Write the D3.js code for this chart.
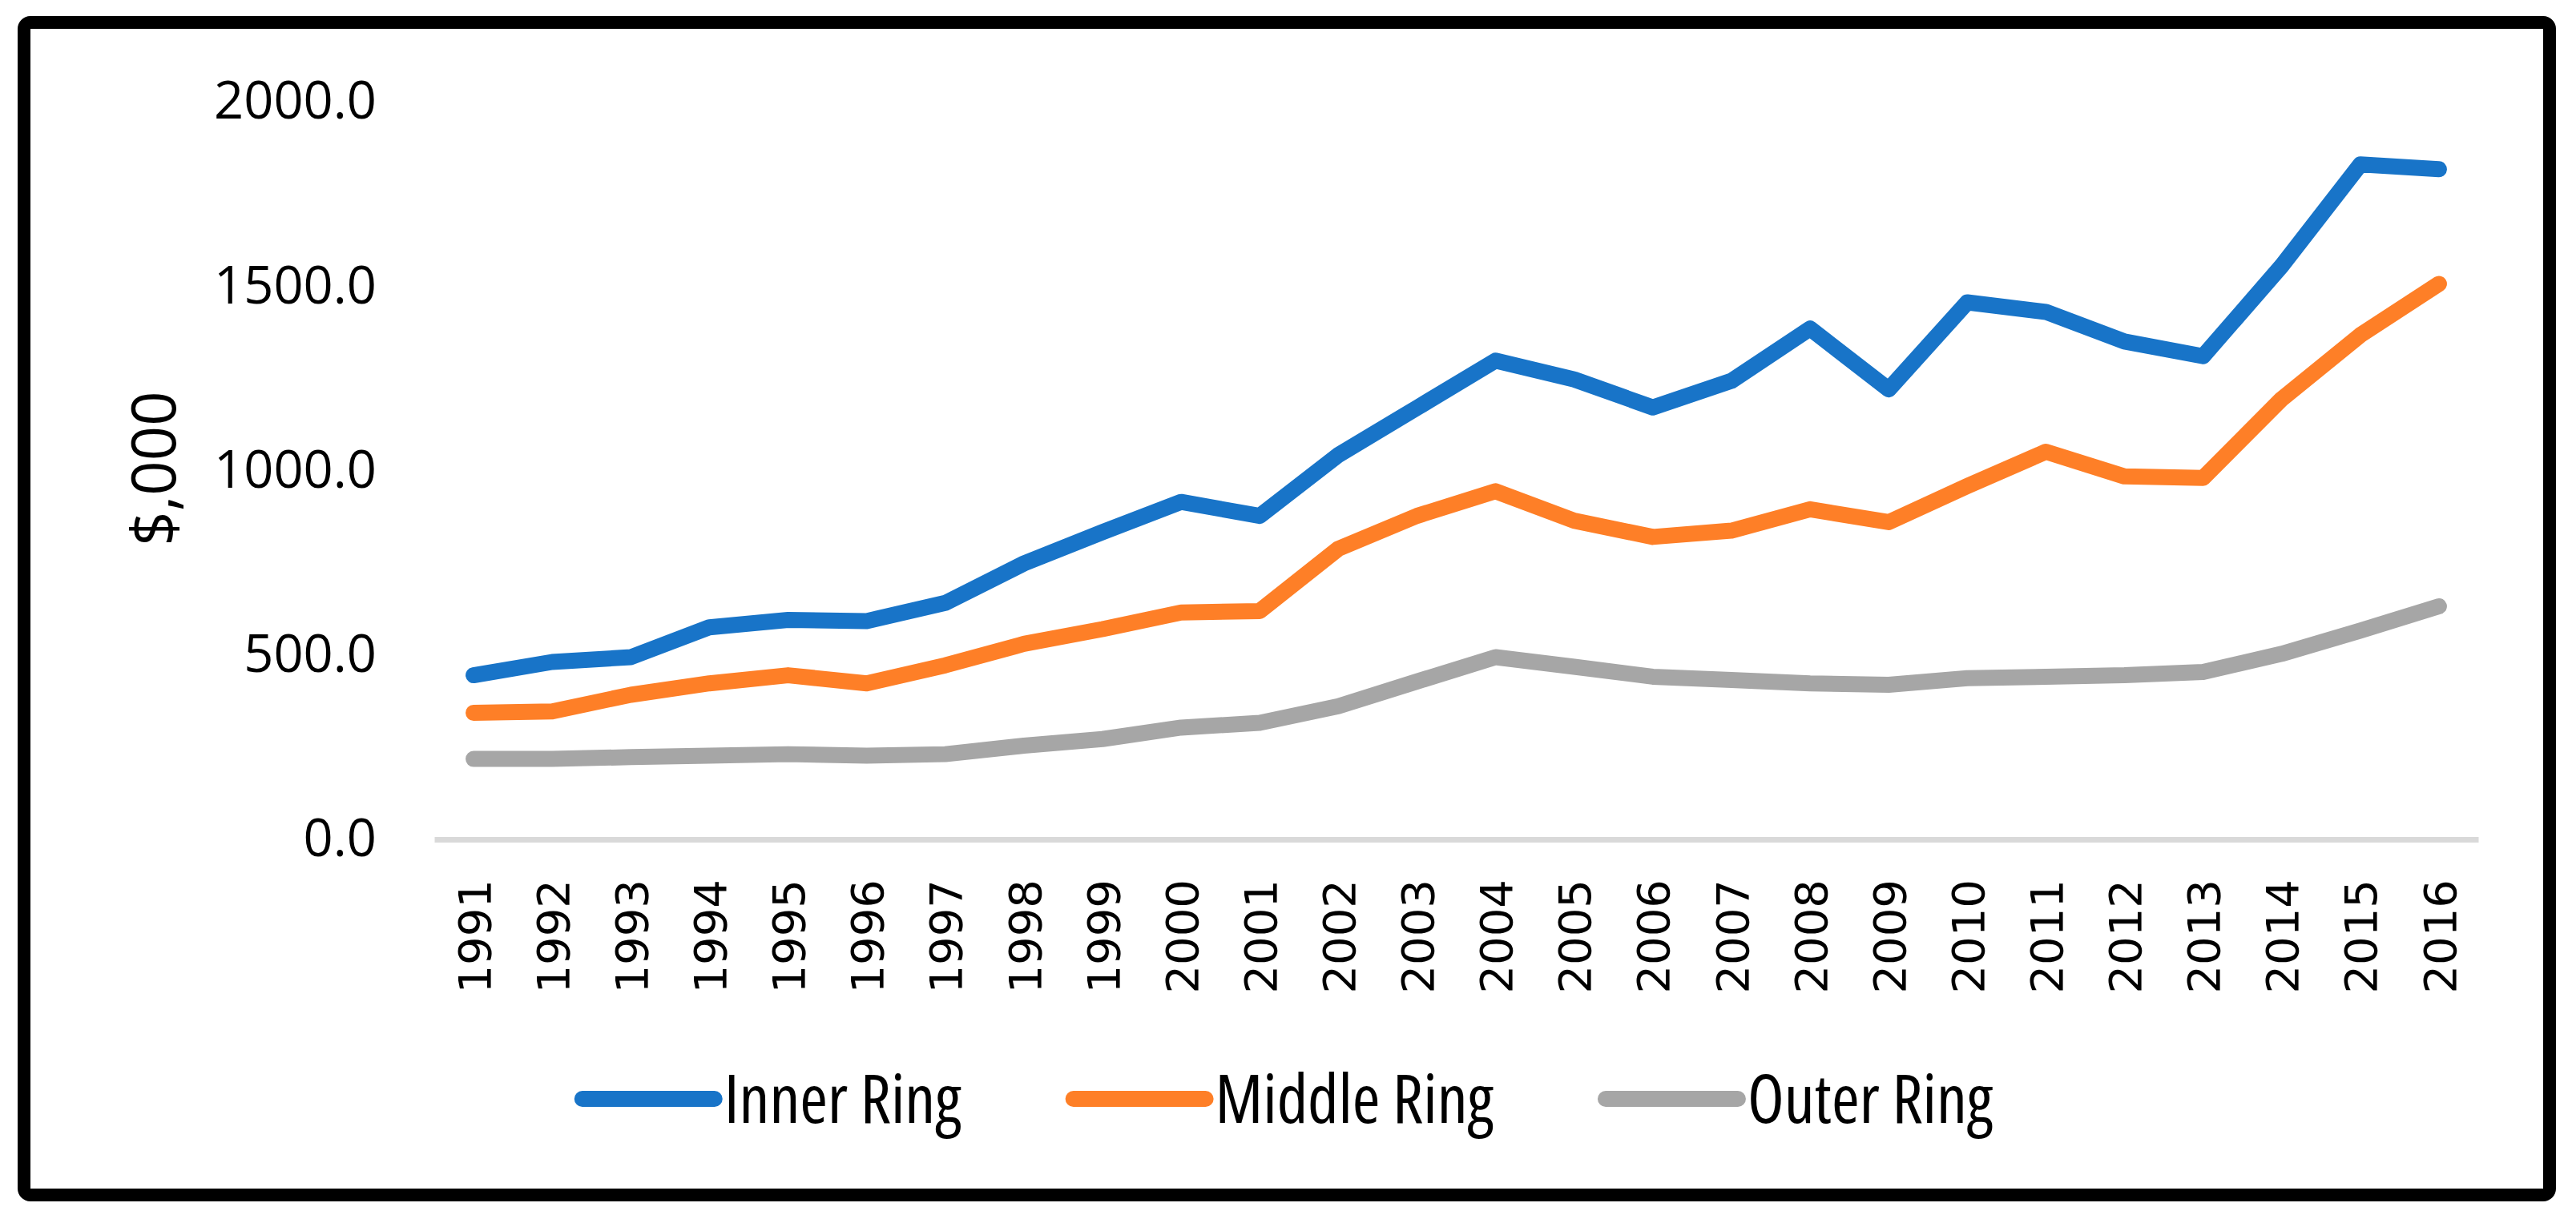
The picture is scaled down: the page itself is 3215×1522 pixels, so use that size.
<!DOCTYPE html>
<html>
<head>
<meta charset="utf-8">
<script src="https://cdn.jsdelivr.net/npm/d3@7"></script>
<style>
    body { margin: 0; background: #fff; }
    svg { display: block; }
</style>
</head>
<body>
<div id="svg-container"></div>
<script>
const w = 3215;
const h = 1522;
const plotLeft = 542;
const plotRight = 3093;
const plotTop = 127;
const plotBottom = 1048;

const years = ["1991", "1992", "1993", "1994", "1995", "1996", "1997", "1998", "1999", "2000",
               "2001", "2002", "2003", "2004", "2005", "2006", "2007", "2008", "2009", "2010",
               "2011", "2012", "2013", "2014", "2015", "2016"];
const innerRing  = [445, 481, 494, 575, 595, 592, 641, 748, 833, 915, 877, 1042, 1170, 1298, 1247, 1171,
                    1243, 1385, 1220, 1456, 1430, 1350, 1310, 1555, 1830, 1817];
const middleRing = [343, 347, 392, 423, 445, 423, 472, 530, 570, 615, 619, 788, 877, 944, 864, 820,
                    837, 895, 860, 958, 1051, 984, 980, 1194, 1367, 1506];
const outerRing  = [218, 218, 223, 227, 231, 227, 231, 254, 272, 303, 316, 361, 428, 494, 468, 441,
                    432, 423, 419, 437, 441, 445, 454, 503, 566, 632];
const seriesNames = ["Inner Ring", "Middle Ring", "Outer Ring"];
const seriesColors = ["#1874c8", "#fe7f27", "#a6a6a6"];
const yTicks = [0, 500, 1000, 1500, 2000];

const series = [innerRing, middleRing, outerRing];

const svg = d3.select("#svg-container")
    .append("svg")
    .attr("width", w)
    .attr("height", h);

// frame round the chart
svg.append("rect")
    .attr("x", 30)
    .attr("y", 28)
    .attr("width", 3152)
    .attr("height", 1464)
    .attr("rx", 8)
    .style("fill", "#fff")
    .style("stroke", "#000")
    .style("stroke-width", 16);

const xScale = d3.scalePoint()
    .domain(years)
    .range([plotLeft, plotRight])
    .padding(0.5);

const yScale = d3.scaleLinear()
    .domain([0, 2000])
    .range([plotBottom, plotTop]);

// y axis, labels only
const yAxis = d3.axisLeft(yScale)
    .tickValues(yTicks)
    .tickSize(0)
    .tickPadding(72)
    .tickFormat(d3.format(".1f"));

svg.append("g")
    .attr("id", "y-axis")
    .attr("transform", "translate(" + plotLeft + ",0)")
    .call(yAxis)
    .call(g => g.select(".domain").remove())
    .selectAll("text")
    .style("font-family", "'Open Sans', sans-serif")
    .style("font-size", "65px")
    .style("fill", "#000");

// x axis with rotated year labels
const xAxis = d3.axisBottom(xScale)
    .tickSize(0)
    .tickSizeOuter(0);

svg.append("g")
    .attr("id", "x-axis")
    .attr("transform", "translate(0," + plotBottom + ")")
    .call(xAxis)
    .call(g => g.select(".domain").style("stroke", "#d9d9d9").style("stroke-width", 7))
    .selectAll("text")
    .attr("transform", "rotate(-90)")
    .attr("x", -50)
    .attr("y", 0)
    .attr("dy", "0.36em")
    .style("text-anchor", "end")
    .style("font-family", "'DejaVu Sans', sans-serif")
    .style("font-size", "56px")
    .style("fill", "#000");

// y axis title
svg.append("text")
    .attr("transform", "translate(192,585) rotate(-90)")
    .attr("dy", "0.36em")
    .style("text-anchor", "middle")
    .style("font-family", "'Open Sans', sans-serif")
    .style("font-size", "76px")
    .text("$,000");

const line = d3.line()
    .x((d, i) => xScale(years[i]))
    .y(d => yScale(d));

svg.selectAll(".series")
    .data(series)
    .enter()
    .append("path")
    .attr("class", "series")
    .attr("d", d => line(d))
    .style("fill", "none")
    .style("stroke", (d, i) => seriesColors[i])
    .style("stroke-width", 20)
    .style("stroke-linecap", "round")
    .style("stroke-linejoin", "round");

// legend
const legend = svg.append("g").attr("id", "legend");
const swatchLength = 165;
const itemGap = 140;
let cursor = 0;
seriesNames.forEach((name, i) => {
    const item = legend.append("g").attr("transform", "translate(" + cursor + ",0)");
    item.append("line")
        .attr("x1", 0)
        .attr("x2", swatchLength)
        .style("stroke", seriesColors[i])
        .style("stroke-width", 20)
        .style("stroke-linecap", "round");
    const label = item.append("text")
        .attr("x", swatchLength + 12)
        .attr("dy", "0.36em")
        .style("font-family", "'Open Sans', sans-serif")
        .style("font-stretch", "87%")
        .style("font-size", "84px")
        .text(name);
    cursor += swatchLength + 12 + label.node().getComputedTextLength() + itemGap;
});
const legendWidth = cursor - itemGap;
legend.attr("transform", "translate(" + (1607 - legendWidth / 2) + ",1372)");
</script>
</body>
</html>
